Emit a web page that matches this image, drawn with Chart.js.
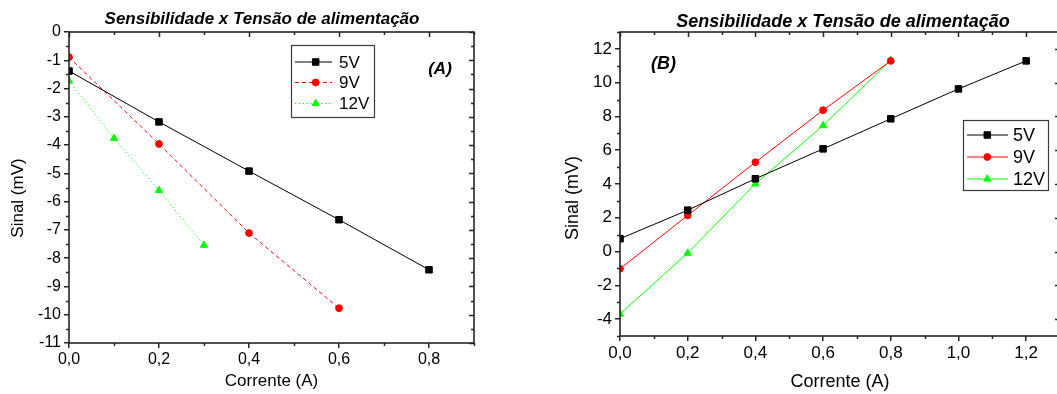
<!DOCTYPE html>
<html><head><meta charset="utf-8">
<script src="https://cdn.jsdelivr.net/npm/chart.js@4.4.0/dist/chart.umd.min.js"></script>
<style>
html,body{margin:0;padding:0;background:#fff;overflow:hidden;width:1057px;height:394px;}
#wa{position:absolute;left:0;top:0;width:540px;height:394px;}
#wb{position:absolute;left:560px;top:0;width:520px;height:394px;}
</style></head><body>
<div id="wa"><canvas id="ca"></canvas></div>
<div id="wb"><canvas id="cb"></canvas></div>
<script>
// ---------- data ----------
const seriesNames = ['5V', '9V', '12V'];
const chartTitle = 'Sensibilidade x Tensão de alimentação';
const xAxisTitle = 'Corrente (A)';
const yAxisTitle = 'Sinal (mV)';

// Panel A
const a_x5  = [0, 0.2, 0.4, 0.6, 0.8];
const a_y5  = [-1.38, -3.18, -4.92, -6.64, -8.41];
const a_x9  = [0, 0.2, 0.4, 0.6];
const a_y9  = [-0.89, -3.96, -7.11, -9.77];
const a_x12 = [0, 0.1, 0.2, 0.3];
const a_y12 = [-1.73, -3.76, -5.6, -7.54];
const a_xTicks = [0, 0.2, 0.4, 0.6, 0.8];
const a_yTicks = [0, -1, -2, -3, -4, -5, -6, -7, -8, -9, -10, -11];

// Panel B
const b_x5  = [0, 0.2, 0.4, 0.6, 0.8, 1.0, 1.2];
const b_y5  = [0.76, 2.45, 4.31, 6.08, 7.86, 9.63, 11.29];
const b_x9  = [0, 0.2, 0.4, 0.6, 0.8];
const b_y9  = [-1.02, 2.14, 5.29, 8.37, 11.29];
const b_x12 = [0, 0.2, 0.4, 0.6, 0.8];
const b_y12 = [-3.7, -0.09, 4.01, 7.46, 11.33];
const b_xTicks = [0, 0.2, 0.4, 0.6, 0.8, 1.0, 1.2];
const b_yTicks = [-4, -2, 0, 2, 4, 6, 8, 10, 12];

// ---------- helpers ----------
const FAM = '"Liberation Sans", Arial, Helvetica, sans-serif';
const FRAME = '#262626';
const pts = (xs, ys) => xs.map((x, i) => ({x: x, y: ys[i]}));

const decor = {
  id: 'decor',
  afterDraw(chart, args, o) {
    const ctx = chart.ctx, ca = chart.chartArea;
    const xs = chart.scales.x, ys = chart.scales.y;
    ctx.save();
    // minor ticks + mirrored ticks on top/right
    ctx.strokeStyle = FRAME; ctx.lineWidth = 1.5; ctx.setLineDash([]);
    const doTicks = (scale, horiz) => {
      const vals = scale.ticks.map(t => t.value);
      const half = Math.abs(vals[1] - vals[0]) / 2;
      const n0 = Math.ceil(scale.min / half - 1e-6), n1 = Math.floor(scale.max / half + 1e-6);
      for (let n = n0; n <= n1; n++) {
        const v = n * half;
        const major = vals.some(m => Math.abs(m - v) < 1e-6);
        const p = Math.round(scale.getPixelForValue(v)) + 0.5;
        const L = major ? 5 : 3;
        ctx.beginPath();
        if (horiz) {
          if (!major) { ctx.moveTo(p, ca.bottom); ctx.lineTo(p, ca.bottom + L); }
          ctx.moveTo(p, ca.top); ctx.lineTo(p, ca.top + L);
        } else {
          if (!major) { ctx.moveTo(ca.left, p); ctx.lineTo(ca.left - L, p); }
          ctx.moveTo(ca.right, p); ctx.lineTo(ca.right - L, p);
        }
        ctx.stroke();
      }
    };
    doTicks(xs, true);
    doTicks(ys, false);
    ctx.lineWidth = 1.6;
    ctx.strokeRect(ca.left, ca.top, ca.right - ca.left, ca.bottom - ca.top);

    // chart title
    ctx.fillStyle = '#000';
    ctx.font = 'italic bold ' + o.title.size + 'px ' + FAM;
    ctx.textAlign = 'center'; ctx.textBaseline = 'alphabetic';
    ctx.fillText(chartTitle, o.title.x, o.title.y);
    // panel label
    ctx.font = 'italic bold ' + o.label.size + 'px ' + FAM;
    ctx.fillText(o.label.text, o.label.x, o.label.y);
    // y-axis title
    ctx.save();
    ctx.translate(o.ytitle.x, o.ytitle.y);
    ctx.rotate(-Math.PI / 2);
    ctx.font = o.ytitle.size + 'px ' + FAM;
    ctx.textBaseline = 'middle';
    ctx.fillText(yAxisTitle, 0, 0);
    ctx.restore();

    // legend
    const L = o.legend;
    ctx.fillStyle = '#fff';
    ctx.fillRect(L.left, L.top, L.right - L.left, L.bottom - L.top);
    ctx.strokeStyle = '#3a3a3a'; ctx.lineWidth = 1.2;
    ctx.strokeRect(L.left + 0.5, L.top + 0.5, L.right - L.left, L.bottom - L.top);
    chart.data.datasets.forEach((ds, i) => {
      const y = L.rows[i];
      ctx.strokeStyle = ds.borderColor; ctx.lineWidth = ds.borderWidth;
      ctx.setLineDash(ds.borderDash || []);
      ctx.beginPath(); ctx.moveTo(L.x0, y); ctx.lineTo(L.x1, y); ctx.stroke();
      ctx.setLineDash([]);
      ctx.fillStyle = ds.pointBackgroundColor; ctx.strokeStyle = ds.pointBorderColor; ctx.lineWidth = 1;
      Chart.helpers.drawPoint(ctx, {pointStyle: ds.pointStyle, radius: ds.pointRadius, borderWidth: 1, rotation: 0}, L.mx, y);
      ctx.fillStyle = '#000';
      ctx.font = L.size + 'px ' + FAM;
      ctx.textAlign = 'left'; ctx.textBaseline = 'middle';
      ctx.fillText(seriesNames[i], L.tx, y + 1);
    });
    ctx.restore();
  }
};

function makeDatasets(d5, d9, d12, dashed) {
  const base = {showLine: true, borderWidth: 1, pointBorderWidth: 1, clip: 0, tension: 0};
  return [
    Object.assign({}, base, {label: seriesNames[0], data: d5, borderColor: '#000', backgroundColor: '#000',
      pointBackgroundColor: '#000', pointBorderColor: '#000', pointStyle: 'rect', pointRadius: 4.6}),
    Object.assign({}, base, {label: seriesNames[1], data: d9, borderColor: '#ff0000', backgroundColor: '#ff0000',
      pointBackgroundColor: '#ff0000', pointBorderColor: '#ff0000', pointStyle: 'circle', pointRadius: 3.4,
      borderDash: dashed ? [4, 3] : []}),
    Object.assign({}, base, {label: seriesNames[2], data: d12, borderColor: '#00ff00', backgroundColor: '#00ff00',
      pointBackgroundColor: '#00ff00', pointBorderColor: '#00ff00', pointStyle: 'triangle', pointRadius: 4.2,
      borderDash: dashed ? [1.2, 2.6] : []})
  ];
}

function makeChart(id, cfg) {
  return new Chart(document.getElementById(id), {
    type: 'scatter',
    data: {datasets: cfg.datasets},
    plugins: [decor],
    options: {
      responsive: true, maintainAspectRatio: false, animation: false,
      layout: {padding: cfg.padding},
      plugins: {legend: {display: false}, tooltip: {enabled: false}, title: {display: false},
        decor: cfg.decor},
      scales: {
        x: {
          type: 'linear', min: cfg.xmin, max: cfg.xmax,
          afterBuildTicks: s => { s.ticks = cfg.xTicks.map(v => ({value: v})); },
          afterFit: s => { s.height = cfg.xh; },
          ticks: {color: '#000', font: {family: FAM, size: cfg.tickSize}, padding: 2, maxRotation: 0, autoSkip: false,
            callback: v => v.toFixed(1).replace('.', ',')},
          grid: {drawOnChartArea: false, drawTicks: true, tickLength: 5, color: FRAME, lineWidth: 1.5},
          border: {display: false},
          title: {display: true, text: xAxisTitle, color: '#000', font: {family: FAM, size: cfg.titleSize},
            padding: {top: 0, bottom: cfg.xtPad}}
        },
        y: {
          type: 'linear', min: cfg.ymin, max: cfg.ymax,
          afterBuildTicks: s => { s.ticks = cfg.yTicks.map(v => ({value: v})); },
          afterFit: s => { s.width = cfg.yw; },
          ticks: {color: '#000', font: {family: FAM, size: cfg.tickSize}, padding: 3, autoSkip: false,
            callback: v => String(v)},
          grid: {drawOnChartArea: false, drawTicks: true, tickLength: 5, color: FRAME, lineWidth: 1.5},
          border: {display: false},
          title: {display: false}
        }
      }
    }
  });
}

makeChart('ca', {
  datasets: makeDatasets(pts(a_x5, a_y5), pts(a_x9, a_y9), pts(a_x12, a_y12), true),
  padding: {left: 0, top: 32, right: 66, bottom: 0},
  xmin: 0, xmax: 0.9, ymin: -11, ymax: 0,
  xTicks: a_xTicks, yTicks: a_yTicks,
  xh: 51, yw: 69, tickSize: 16, titleSize: 17, xtPad: 2,
  decor: {
    title: {x: 262, y: 23.5, size: 17},
    label: {text: '(A)', x: 440, y: 74, size: 17},
    ytitle: {x: 18.5, y: 198, size: 17},
    legend: {left: 291, top: 45, right: 374, bottom: 117, rows: [62, 82.5, 103.5], x0: 295, x1: 332, mx: 315.7, tx: 339, size: 17}
  }
});

makeChart('cb', {
  datasets: makeDatasets(pts(b_x5, b_y5), pts(b_x9, b_y9), pts(b_x12, b_y12), false),
  padding: {left: 0, top: 32, right: 20, bottom: 0},
  xmin: 0, xmax: 1.3, ymin: -5, ymax: 13,
  xTicks: b_xTicks, yTicks: b_yTicks,
  xh: 58, yw: 60, tickSize: 17, titleSize: 18, xtPad: 1,
  decor: {
    title: {x: 283, y: 26.5, size: 18},
    label: {text: '(B)', x: 103.5, y: 69, size: 18},
    ytitle: {x: 13, y: 198, size: 18},
    legend: {left: 403, top: 120, right: 488, bottom: 190, rows: [135, 157, 179], x0: 407, x1: 448, mx: 427.3, tx: 453, size: 18}
  }
});
</script>
</body></html>
